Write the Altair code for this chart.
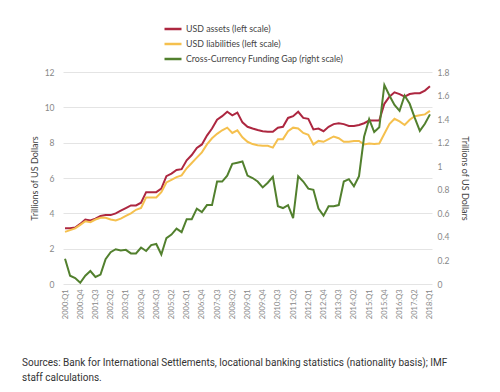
import altair as alt
import pandas as pd

quarters = [f"{y}:Q{q}" for y in range(2000, 2019) for q in range(1, 5)][:73]

usd_assets = [
    3.15, 3.15, 3.2, 3.4, 3.65, 3.6, 3.7, 3.85, 3.9, 3.9,
    4.0, 4.15, 4.3, 4.45, 4.45, 4.6, 5.2, 5.2, 5.2, 5.4,
    6.1, 6.25, 6.45, 6.5, 7.0, 7.3, 7.7, 7.9, 8.4, 8.8,
    9.3, 9.5, 9.75, 9.55, 9.7, 9.15, 8.9, 8.8, 8.72, 8.65,
    8.62, 8.62, 8.85, 8.9, 9.4, 9.5, 9.75, 9.4, 9.35, 8.75,
    8.8, 8.65, 8.9, 9.05, 9.1, 9.05, 8.95, 8.95, 9.0, 9.1,
    9.25, 9.25, 9.25, 10.2, 10.6, 10.85, 10.75, 10.6, 10.75, 10.8,
    10.8, 10.95, 11.2,
]
usd_liabilities = [
    2.95, 3.05, 3.15, 3.35, 3.55, 3.5, 3.65, 3.75, 3.75, 3.65,
    3.6, 3.7, 3.85, 4.0, 4.2, 4.3, 4.9, 4.9, 4.9, 5.2,
    5.75, 5.9, 6.05, 6.15, 6.55, 6.85, 7.15, 7.45, 7.9, 8.25,
    8.5, 8.7, 8.85, 8.55, 8.7, 8.3, 8.05, 7.92, 7.85, 7.82,
    7.82, 7.72, 8.2, 8.2, 8.65, 8.85, 8.8, 8.55, 8.45, 7.9,
    8.1, 8.05, 8.2, 8.35, 8.25, 8.05, 8.05, 8.1, 8.1, 7.9,
    7.95, 7.92, 7.95, 8.5, 9.05, 9.35, 9.2, 9.0, 9.3, 9.5,
    9.55, 9.6, 9.8,
]
funding_gap = [
    0.215, 0.07, 0.05, 0.01, 0.07, 0.11, 0.06, 0.08, 0.21, 0.27,
    0.295, 0.285, 0.29, 0.26, 0.26, 0.31, 0.28, 0.33, 0.34, 0.25,
    0.39, 0.42, 0.47, 0.44, 0.55, 0.55, 0.64, 0.61, 0.67, 0.67,
    0.87, 0.87, 0.92, 1.02, 1.03, 1.04, 0.92, 0.90, 0.87, 0.82,
    0.86, 0.91, 0.66, 0.645, 0.67, 0.56, 0.915, 0.87, 0.81, 0.80,
    0.64, 0.58, 0.66, 0.66, 0.67, 0.87, 0.89, 0.83, 0.915, 1.25,
    1.40, 1.29, 1.33, 1.69, 1.60, 1.52, 1.47, 1.60, 1.53, 1.41,
    1.30, 1.36, 1.44,
]

series_names = [
    "USD assets (left scale)",
    "USD liabilities (left scale)",
    "Cross-Currency Funding Gap (right scale)",
]
series_colors = ["#ad2740", "#f5c04e", "#52802e"]

left_df = pd.DataFrame({
    "quarter": quarters * 2,
    "value": usd_assets + usd_liabilities,
    "series": [series_names[0]] * 73 + [series_names[1]] * 73,
})
right_df = pd.DataFrame({
    "quarter": quarters,
    "value": funding_gap,
    "series": [series_names[2]] * 73,
})

FONT = "Lato"

x_enc = alt.X(
    "quarter:O", sort=None, title=None,
    scale=alt.Scale(type="point", padding=0.4),
    axis=alt.Axis(values=quarters[::3], labelAngle=-90, labelFontSize=7.5,
                  labelColor="#888888", labelFont=FONT, ticks=False, domain=False,
                  labelPadding=5, grid=False),
)
color_enc = alt.Color(
    "series:N",
    scale=alt.Scale(domain=series_names, range=series_colors),
    legend=alt.Legend(
        title=None, orient="none", legendX=100, legendY=-53, direction="vertical",
        symbolType="stroke", symbolSize=289, symbolStrokeWidth=2.5,
        labelFont=FONT, labelFontSize=8.8, labelColor="#444444", labelOffset=3,
        labelLimit=400, rowPadding=0,
    ),
)

left = alt.Chart(left_df).mark_line(strokeWidth=2).encode(
    x=x_enc,
    y=alt.Y("value:Q", title="Trillions of US Dollars",
            scale=alt.Scale(domain=[0, 12], nice=False),
            axis=alt.Axis(values=[0, 2, 4, 6, 8, 10, 12], format="d", orient="left",
                          labelFontSize=8.5, labelColor="#888888", labelFont=FONT,
                          ticks=False, domain=False, labelPadding=9,
                          gridColor="#e4e4e4", grid=True,
                          titleFont=FONT, titleFontSize=9, titleFontWeight="normal",
                          titleColor="#444444", titlePadding=5)),
    color=color_enc,
)

right = alt.Chart(right_df).mark_line(strokeWidth=2).encode(
    x=x_enc,
    y=alt.Y("value:Q", title="Trillions of US Dollars",
            scale=alt.Scale(domain=[0, 1.8], nice=False),
            axis=alt.Axis(values=[0, 0.2, 0.4, 0.6, 0.8, 1, 1.2, 1.4, 1.6, 1.8],
                          format="~g", orient="right",
                          labelFontSize=8.5, labelColor="#888888", labelFont=FONT,
                          ticks=False, domain=False, labelPadding=5, grid=False,
                          titleFont=FONT, titleFontSize=9, titleFontWeight="normal",
                          titleColor="#444444", titlePadding=11)),
    color=color_enc,
)

chart = alt.layer(left, right).resolve_scale(y="independent").properties(
    width=369,
    height=212,
    autosize=alt.AutoSizeParams(type="none"),
    padding={"left": 55, "top": 64, "right": 60, "bottom": 100},
    title=alt.TitleParams(
        text=["Sources: Bank for International Settlements, locational banking statistics (nationality basis); IMF",
              "staff calculations."],
        orient="bottom", anchor="start", frame="group", dx=-41, offset=39,
        font="Roboto", fontSize=10, fontWeight="normal", color="#333333",
        lineHeight=15,
    ),
).configure_view(stroke=None)

chart.save("out.html", embed_options={"renderer": "svg", "actions": False})
